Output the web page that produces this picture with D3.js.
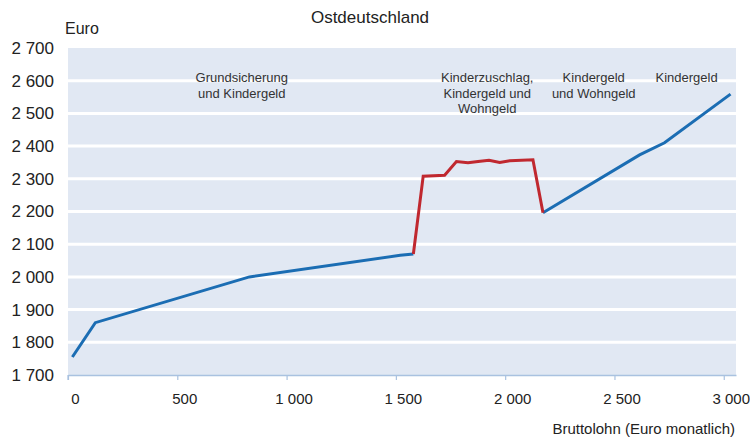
<!DOCTYPE html>
<html>
<head>
<meta charset="utf-8">
<script src="https://cdn.jsdelivr.net/npm/d3@7"></script>
<style>
    body { margin: 0; background: #fff; }
    svg { font-family: "Liberation Sans", Arial, sans-serif; }
</style>
</head>
<body>
<div id="chart"></div>
<script>
// Bruttolohn (Euro monatlich) -> verfügbares Einkommen (Euro)
const blueLeft = [
    {x: 20, y: 1755}, {x: 125, y: 1860}, {x: 830, y: 2000},
    {x: 1520, y: 2066}, {x: 1580, y: 2070}
];
const redMid = [
    {x: 1580, y: 2070}, {x: 1625, y: 2308}, {x: 1723, y: 2311},
    {x: 1777, y: 2353}, {x: 1830, y: 2349}, {x: 1876, y: 2353},
    {x: 1926, y: 2357}, {x: 1975, y: 2350}, {x: 2021, y: 2355},
    {x: 2127, y: 2358}, {x: 2173, y: 2196}
];
const blueRight = [
    {x: 2173, y: 2196}, {x: 2615, y: 2373}, {x: 2729, y: 2410},
    {x: 3031, y: 2559}
];
const xTicks = [0, 500, 1000, 1500, 2000, 2500, 3000];
const yTicks = [1700, 1800, 1900, 2000, 2100, 2200, 2300, 2400, 2500, 2600, 2700];
const annotations = [
    {lines: ["Grundsicherung", "und Kindergeld"], x: 795},
    {lines: ["Kinderzuschlag,", "Kindergeld und", "Wohngeld"], x: 1918},
    {lines: ["Kindergeld", "und Wohngeld"], x: 2405},
    {lines: ["Kindergeld"], x: 2830}
];

const width = 750, height = 439;
const plot = {left: 68, right: 736, top: 48, bottom: 375};

const fmt = v => d3.format(",")(v).replace(/,/g, "\u2009".replace("\u2009", " "));

const x = d3.scaleLinear().domain([0, 3056]).range([plot.left, plot.right]);
const y = d3.scaleLinear().domain([1700, 2700]).range([plot.bottom, plot.top]);

const svg = d3.select("#chart").append("svg")
    .attr("width", width)
    .attr("height", height);

// background
svg.append("rect")
    .attr("x", plot.left).attr("y", plot.top)
    .attr("width", plot.right - plot.left)
    .attr("height", plot.bottom - plot.top)
    .attr("fill", "#e1e8f3");

// white grid lines
svg.append("g").selectAll("line")
    .data(yTicks.slice(1, -1))
    .join("line")
    .attr("x1", plot.left).attr("x2", plot.right)
    .attr("y1", d => y(d)).attr("y2", d => y(d))
    .attr("stroke", "#fff")
    .attr("stroke-width", 3);

// x axis
const xAxis = svg.append("g")
    .attr("transform", `translate(0,${plot.bottom})`)
    .call(d3.axisBottom(x).tickValues(xTicks).tickSize(5).tickSizeOuter(0).tickFormat(fmt));
xAxis.select(".domain").attr("stroke", "#a9c2e0").attr("stroke-width", 1.5);
xAxis.selectAll(".tick line").attr("stroke", "#a9c2e0").attr("stroke-width", 1.2);
xAxis.selectAll(".tick text")
    .attr("dx", 7).attr("y", 18)
    .attr("font-size", 15).attr("fill", "#222")
    .attr("font-family", "Liberation Sans, Arial, sans-serif");
xAxis.append("path")
    .attr("d", `M${plot.left},0V5`)
    .attr("stroke", "#a9c2e0").attr("stroke-width", 1.2);

// y axis labels
svg.append("g").selectAll("text")
    .data(yTicks)
    .join("text")
    .attr("x", 54)
    .attr("y", d => y(d))
    .attr("dy", "0.35em")
    .attr("text-anchor", "end")
    .attr("font-size", 17)
    .attr("fill", "#222")
    .text(fmt);

// lines
const line = d3.line().x(d => x(d.x)).y(d => y(d.y));
const series = [
    {data: blueLeft, color: "#1b6db3"},
    {data: blueRight, color: "#1b6db3"},
    {data: redMid, color: "#c0282f"}
];
svg.append("g").selectAll("path")
    .data(series)
    .join("path")
    .attr("d", d => line(d.data))
    .attr("fill", "none")
    .attr("stroke", d => d.color)
    .attr("stroke-width", 3)
    .attr("stroke-linejoin", "miter");

// annotations
const ann = svg.append("g").selectAll("text")
    .data(annotations)
    .join("text")
    .attr("text-anchor", "middle")
    .attr("font-size", 13)
    .attr("fill", "#333");
ann.selectAll("tspan")
    .data(d => d.lines.map((t, i) => ({t, i, x: d.x})))
    .join("tspan")
    .attr("x", d => x(d.x))
    .attr("y", d => 82 + d.i * 15.5)
    .text(d => d.t);

// titles
svg.append("text")
    .attr("x", 370).attr("y", 23)
    .attr("text-anchor", "middle")
    .attr("font-size", 17)
    .attr("fill", "#222")
    .text("Ostdeutschland");
svg.append("text")
    .attr("x", 65).attr("y", 34)
    .attr("font-size", 16)
    .attr("fill", "#222")
    .text("Euro");
svg.append("text")
    .attr("x", 735).attr("y", 434)
    .attr("text-anchor", "end")
    .attr("font-size", 15)
    .attr("fill", "#222")
    .text("Bruttolohn (Euro monatlich)");
</script>
</body>
</html>
